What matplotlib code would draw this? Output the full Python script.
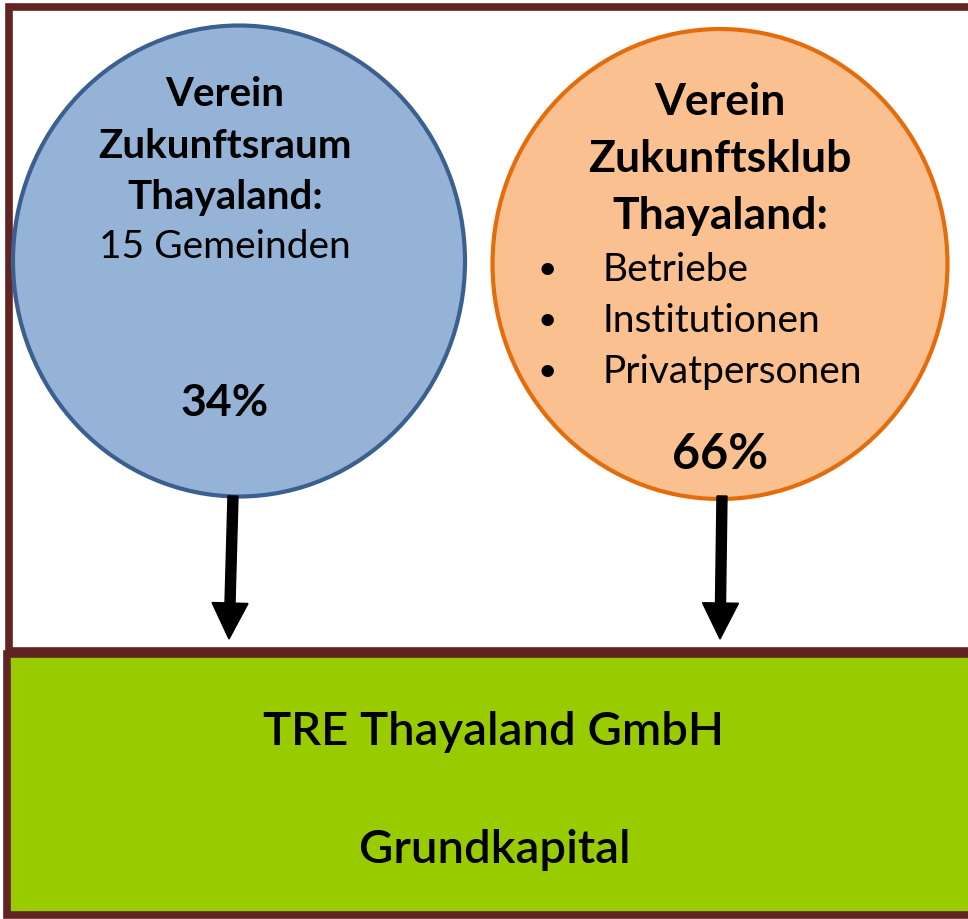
"""
Organigramm: Eigentümer der TRE Thayaland GmbH (Anteile am Grundkapital).
"""

import matplotlib.pyplot as plt
from matplotlib.patches import Ellipse, Rectangle

plt.rcParams["font.family"] = ["Lato", "DejaVu Sans"]

# Daten
owners = [["Verein", "Zukunftsraum", "Thayaland:"],
          ["Verein", "Zukunftsklub", "Thayaland:"]]
owner_details = [["15 Gemeinden"], ["Betriebe", "Institutionen", "Privatpersonen"]]
shares = [34, 66]
company = "TRE Thayaland GmbH"
capital_label = "Grundkapital"

# Layout (Pixel, y nach unten)
W, H = 968, 920
circle_cx = [239, 720]
circle_cy = [262, 265]
circle_w = [452, 455]
circle_h = [471, 470]
fills = ["#95B3D7", "#FAC090"]
edges = ["#3B6090", "#E46C0A"]
frame_color = "#622423"
green = "#99CC00"

fig = plt.figure(figsize=(W / 100, H / 100), dpi=100)
ax = fig.add_axes([0, 0, 1, 1])
ax.set_xlim(0, W)
ax.set_ylim(H, 0)
ax.axis("off")

# oberer Rahmen und grüne Box
ax.add_patch(Rectangle((9, 8), W + 20, 644, facecolor="white",
                       edgecolor=frame_color, linewidth=5.5))
ax.add_patch(Rectangle((7, 655), W + 20, 261, facecolor=green,
                       edgecolor=frame_color, linewidth=5.5))

title_x = [225, 720]
title_y0 = [95, 102]
title_step = [51, 57]
title_sizes = [29, 32]
share_x = [225, 720]
share_y = [403, 455]
share_sizes = [32, 35]
for i in range(2):
    ax.add_patch(Ellipse((circle_cx[i], circle_cy[i]), circle_w[i], circle_h[i],
                         facecolor=fills[i], edgecolor=edges[i], linewidth=3))
    for k, line in enumerate(owners[i]):
        ax.text(title_x[i], title_y0[i] + k * title_step[i], line,
                ha="center", va="center", fontsize=title_sizes[i],
                fontweight="bold")
    ax.text(share_x[i], share_y[i], f"{shares[i]}%", ha="center",
            va="center", fontsize=share_sizes[i], fontweight="bold")

# Details
ax.text(225, 247, owner_details[0][0], ha="center", va="center", fontsize=28)
for j, item in enumerate(owner_details[1]):
    y = 270 + j * 51
    ax.text(547, y, "\u2022", ha="center", va="center", fontsize=24)
    ax.text(603, y, item, ha="left", va="center", fontsize=28)

# Pfeile
arrow_x = [(233, 229), (722, 720)]
for x0, x1 in arrow_x:
    ax.arrow(x0, 497, x1 - x0, 640 - 497, width=10, head_width=36,
             head_length=36, length_includes_head=True, color="black")

ax.text(494, 732, company, ha="center", va="center", fontsize=34,
        fontweight="semibold")
ax.text(495, 850, capital_label, ha="center", va="center", fontsize=34,
        fontweight="semibold")

fig.savefig("out.png", dpi=100)
plt.close(fig)
